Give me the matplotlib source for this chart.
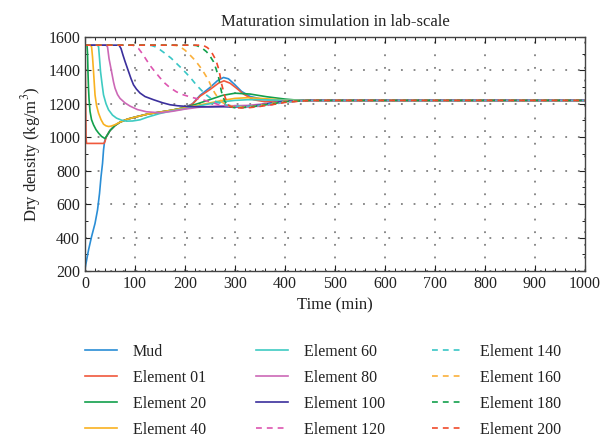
import matplotlib
matplotlib.use("Agg")
import matplotlib.pyplot as plt
from matplotlib.ticker import MultipleLocator

plt.rcParams['font.family'] = ['Liberation Serif', 'DejaVu Serif']
plt.rcParams['mathtext.fontset'] = 'stix'

# ---- data ----
mud_x = [0, 7, 13, 20, 25, 29, 32, 35, 37, 39, 42, 46, 50, 60, 70, 85, 100, 125, 150, 175, 200, 215, 230, 250, 265, 277, 287, 300, 313, 330, 357, 400, 500, 1000]
mud_y = [215, 326, 405, 485, 565, 664, 764, 843, 923, 973, 999, 1020, 1040, 1070, 1090, 1108, 1120, 1138, 1150, 1162, 1178, 1200, 1250, 1297, 1338, 1357, 1349, 1313, 1274, 1244, 1225, 1220, 1220, 1220]

e01_x = [0, 1, 2, 3, 10, 20, 30, 38, 40, 42, 46, 50, 60, 70, 85, 100, 125, 150, 175, 200, 215, 230, 250, 267, 278, 290, 303, 317, 337, 360, 400, 500, 1000]
e01_y = [1550, 1300, 1000, 963, 963, 963, 963, 963, 975, 999, 1020, 1040, 1070, 1090, 1108, 1120, 1138, 1150, 1162, 1176, 1198, 1245, 1285, 1323, 1337, 1323, 1293, 1258, 1224, 1212, 1218, 1220, 1220]

e20_x = [0, 4, 5, 6, 7, 8, 10, 13, 17, 22, 27, 33, 40, 46, 50, 60, 70, 85, 100, 125, 150, 175, 200, 225, 250, 275, 300, 330, 363, 400, 423, 500, 1000]
e20_y = [1550, 1550, 1500, 1380, 1290, 1230, 1154, 1105, 1074, 1045, 1025, 1005, 992, 1020, 1040, 1070, 1090, 1108, 1120, 1138, 1150, 1162, 1178, 1200, 1225, 1250, 1263, 1258, 1242, 1228, 1222, 1220, 1220]

e40_x = [0, 10, 13, 15, 17, 20, 23, 27, 32, 37, 42, 47, 52, 60, 70, 85, 100, 125, 150, 175, 200, 225, 250, 275, 300, 325, 350, 400, 500, 1000]
e40_y = [1550, 1550, 1543, 1480, 1393, 1253, 1190, 1144, 1105, 1078, 1068, 1064, 1066, 1075, 1090, 1108, 1120, 1138, 1150, 1162, 1176, 1190, 1205, 1220, 1232, 1236, 1232, 1222, 1220, 1220]

e60_x = [0, 24, 27, 29, 31, 34, 37, 42, 47, 55, 63, 73, 83, 95, 110, 125, 150, 175, 200, 225, 250, 275, 300, 325, 350, 400, 500, 1000]
e60_y = [1550, 1550, 1543, 1470, 1393, 1320, 1253, 1200, 1164, 1132, 1114, 1102, 1096, 1097, 1104, 1120, 1142, 1158, 1170, 1185, 1200, 1212, 1220, 1224, 1224, 1221, 1220, 1220]

e80_x = [0, 42, 45, 48, 53, 57, 60, 65, 70, 80, 90, 105, 123, 150, 175, 200, 225, 250, 275, 300, 325, 350, 375, 400, 450, 1000]
e80_y = [1550, 1550, 1540, 1470, 1393, 1330, 1293, 1255, 1232, 1205, 1186, 1165, 1152, 1146, 1155, 1168, 1178, 1184, 1188, 1188, 1190, 1197, 1207, 1215, 1220, 1220]

e100_x = [0, 68, 72, 76, 80, 87, 92, 97, 103, 110, 120, 137, 155, 170, 185, 203, 225, 250, 277, 300, 325, 350, 375, 400, 450, 1000]
e100_y = [1550, 1550, 1530, 1490, 1453, 1393, 1350, 1313, 1287, 1264, 1243, 1224, 1206, 1194, 1188, 1184, 1182, 1181, 1182, 1180, 1183, 1192, 1205, 1215, 1220, 1220]

e120_x = [0, 95, 100, 107, 115, 123, 131, 140, 150, 160, 170, 183, 196, 210, 223, 237, 250, 270, 290, 310, 330, 350, 375, 400, 450, 1000]
e120_y = [1550, 1550, 1545, 1530, 1498, 1461, 1425, 1391, 1355, 1322, 1296, 1271, 1254, 1241, 1231, 1222, 1212, 1192, 1185, 1182, 1182, 1185, 1195, 1210, 1220, 1220]

e140_x = [0, 125, 133, 140, 150, 160, 172, 183, 193, 203, 213, 223, 233, 243, 253, 263, 273, 283, 300, 320, 350, 400, 450, 1000]
e140_y = [1550, 1550, 1548, 1541, 1523, 1501, 1473, 1441, 1412, 1381, 1348, 1311, 1280, 1252, 1229, 1212, 1200, 1192, 1185, 1183, 1190, 1210, 1220, 1220]

e160_x = [0, 175, 182, 190, 200, 210, 220, 230, 238, 247, 253, 260, 267, 273, 281, 290, 300, 315, 330, 350, 375, 400, 450, 1000]
e160_y = [1550, 1550, 1548, 1541, 1520, 1491, 1460, 1421, 1385, 1341, 1300, 1262, 1232, 1212, 1196, 1186, 1181, 1180, 1182, 1190, 1203, 1215, 1220, 1220]

e180_x = [0, 215, 223, 233, 243, 250, 257, 262, 267, 270, 273, 277, 280, 285, 290, 300, 310, 330, 350, 375, 400, 450, 1000]
e180_y = [1550, 1550, 1548, 1535, 1511, 1485, 1451, 1410, 1361, 1315, 1271, 1235, 1212, 1195, 1182, 1176, 1176, 1180, 1188, 1200, 1212, 1220, 1220]

e200_x = [0, 230, 237, 245, 250, 255, 260, 264, 267, 270, 273, 277, 280, 284, 287, 292, 297, 310, 330, 350, 375, 400, 450, 1000]
e200_y = [1550, 1550, 1548, 1535, 1520, 1498, 1471, 1440, 1411, 1370, 1321, 1275, 1241, 1210, 1192, 1182, 1178, 1175, 1177, 1184, 1195, 1208, 1220, 1220]

labels = ['Mud', 'Element 01', 'Element 20', 'Element 40', 'Element 60', 'Element 80',
          'Element 100', 'Element 120', 'Element 140', 'Element 160', 'Element 180', 'Element 200']
xs = [mud_x, e01_x, e20_x, e40_x, e60_x, e80_x, e100_x, e120_x, e140_x, e160_x, e180_x, e200_x]
ys = [mud_y, e01_y, e20_y, e40_y, e60_y, e80_y, e100_y, e120_y, e140_y, e160_y, e180_y, e200_y]
colors = ['#2a8ed6', '#f0583c', '#12a04c', '#f9b120', '#3ecbc2', '#cc68b6',
          '#3b2f9c', '#dd55b0', '#38c6c6', '#fbb03b', '#12a04c', '#f04a2a']
styles = ['-'] * 7 + ['--'] * 5

fig = plt.figure(figsize=(6.03, 4.38), dpi=100)
ax = fig.add_axes([0.141, 0.381, 0.829, 0.535])

handles = []
for x, y, c, s, lab in zip(xs, ys, colors, styles, labels):
    if s == '--':
        h, = ax.plot(x, y, color=c, lw=1.2, linestyle=(0, (3.5, 3)), label=lab)
    else:
        h, = ax.plot(x, y, color=c, lw=1.2, label=lab)
    handles.append(h)

ax.set_xlim(0, 1000)
ax.set_ylim(200, 1600)
ax.xaxis.set_major_locator(MultipleLocator(100))
ax.xaxis.set_minor_locator(MultipleLocator(20))
ax.yaxis.set_major_locator(MultipleLocator(200))
ax.yaxis.set_minor_locator(MultipleLocator(100))
ax.tick_params(which='both', direction='in', top=True, right=True, labelsize=11.5, colors='#222222')
ax.tick_params(which='major', length=4, width=0.8)
ax.tick_params(which='minor', length=2.5, width=0.7)
ax.grid(True, which='major', color='#808080', linestyle=(0, (1, 6)), lw=1.3)
ax.set_axisbelow(True)
for sp in ax.spines.values():
    sp.set_color('#444444')
    sp.set_linewidth(1.0)

ax.set_title('Maturation simulation in lab-scale', fontsize=12, pad=8, color='#222222')
ax.set_xlabel('Time (min)', fontsize=12, labelpad=4, color='#222222')
ax.set_ylabel('Dry density (kg/m$^3$)', fontsize=12, labelpad=4, color='#222222')

# three legend columns, placed explicitly
col_left_px = [85, 256, 432]
fs = 11.5
for k, xl in enumerate(col_left_px):
    hs = handles[4 * k:4 * k + 4]
    ls = labels[4 * k:4 * k + 4]
    fig.legend(handles=hs, labels=ls, loc='upper left',
               bbox_to_anchor=(xl / 603.0, 1 - 344 / 438.0),
               frameon=False, fontsize=fs, borderpad=0, borderaxespad=0,
               handlelength=2.0, handletextpad=1.0,
               labelspacing=0.62, labelcolor='#222222')

fig.savefig('out.png', dpi=100)
